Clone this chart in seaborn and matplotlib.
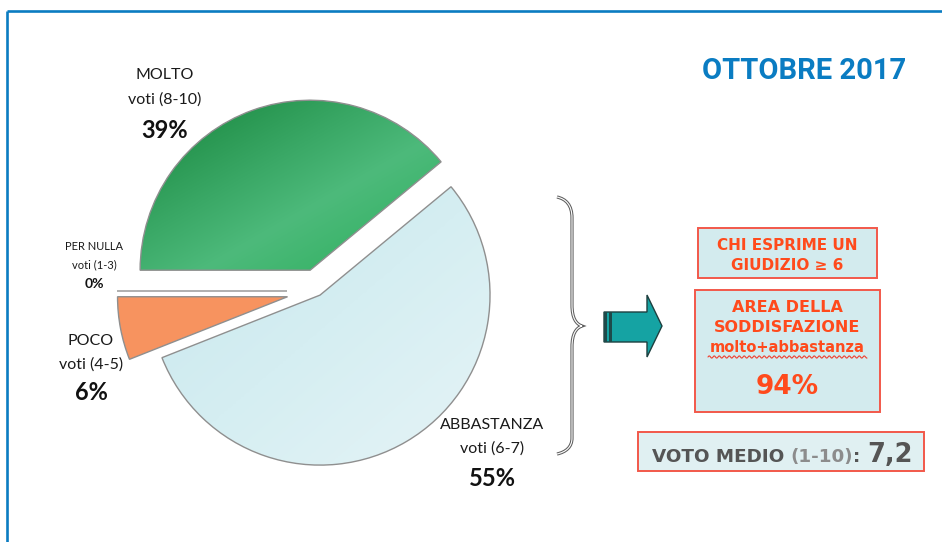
import numpy as np
import seaborn as sns
import matplotlib.pyplot as plt
import matplotlib.font_manager as fm
from matplotlib.patches import Rectangle, Polygon, PathPatch
from matplotlib.path import Path

# data
categories = ['PER NULLA', 'MOLTO', 'ABBASTANZA', 'POCO']
vote_ranges = ['voti (1-3)', 'voti (8-10)', 'voti (6-7)', 'voti (4-5)']
shares = [0, 39, 55, 6]
explode = [0.18, 0.13, 0.028, 0.18]
period_title = 'OTTOBRE 2017'
satisfaction = shares[1] + shares[2]
avg_vote = '7,2'

sns.set_theme(style='white')
avail = {f.name for f in fm.fontManager.ttflist}
title_font = 'Liberation Sans Narrow' if 'Liberation Sans Narrow' in avail else 'Roboto'
label_font = ['Lato', 'DejaVu Sans']
plt.rcParams['font.family'] = ['DejaVu Sans']

W, H = 942, 542
fig = plt.figure(figsize=(W / 100, H / 100), dpi=100)
ax = fig.add_axes([0, 0, 1, 1])


def Y(py):
    return H - py


# pie (explode in matplotlib is absolute, so scale by the radius)
cx, cy, R = 317.6, Y(291), 170
wedges, _ = ax.pie(shares, explode=[e * R for e in explode], startangle=180, counterclock=False,
                   center=(cx, cy), radius=R,
                   colors=['#bbbbbb', '#2fa85c', '#d6edf1', '#f7935f'],
                   wedgeprops=dict(edgecolor='#8f8f8f', linewidth=1.0))

# diagonal gradient fills for MOLTO and ABBASTANZA, clipped to the wedges
green_cmap = sns.blend_palette(['#1c8541', '#27954f', '#3aa866', '#4dba7b', '#3bb46a', '#27ad58'],
                               as_cmap=True)
light_cmap = sns.blend_palette(['#c8e7ed', '#d5eef2', '#e6f4f6'], as_cmap=True)
for w, cm in [(wedges[1], green_cmap), (wedges[2], light_cmap)]:
    ext = w.get_path().get_extents(w.get_transform() + ax.transData.inverted())
    x0, x1, y0, y1 = ext.x0 - 3, ext.x1 + 3, ext.y0 - 3, ext.y1 + 3
    gy, gx = np.mgrid[y1:y0:200j, x0:x1:200j]
    grad = ((gx - x0) / (x1 - x0) + (y1 - gy) / (y1 - y0)) / 2
    im = ax.imshow(grad, cmap=cm, extent=(x0, x1, y0, y1), origin='upper',
                   aspect='auto', zorder=1, interpolation='bilinear', vmin=0, vmax=1)
    im.set_clip_path(w)
    w.set_facecolor('none')
    w.set_zorder(3)

# pie labels
label_pos = {
    'PER NULLA': (94, 247, 265, 284, 8, 10),
    'MOLTO': (165, 75, 100, 130, 11.5, 17),
    'ABBASTANZA': (492, 425, 449, 479, 11.5, 17),
    'POCO': (91, 341, 365, 393, 11.5, 17),
}
for cat, rng, val in zip(categories, vote_ranges, shares):
    x, y1, y2, y3, fs, fs2 = label_pos[cat]
    ax.text(x, Y(y1), cat, ha='center', va='center', fontsize=fs, family=label_font, color='#1a1a1a')
    ax.text(x, Y(y2), rng, ha='center', va='center', fontsize=fs, family=label_font, color='#1a1a1a')
    ax.text(x, Y(y3), f'{val}%', ha='center', va='center', fontsize=fs2, family=label_font,
            fontweight='bold', color='#111111')

# title
ax.text(804, Y(71), period_title, ha='center', va='center', fontsize=21, fontweight='bold',
        family=[title_font, 'DejaVu Sans'], color='#0a7cc2')

# border
ax.plot([6.7, W], [Y(11.3), Y(11.3)], color='#0b7cc1', lw=1.9, solid_capstyle='butt')
ax.plot([6.7, 6.7], [Y(11.3), 0], color='#0b7cc1', lw=1.9, solid_capstyle='butt')

# brace
brace_px = [(557, 197), (566, 199), (572, 205), (572, 218), (572, 305),
            (572, 318), (576, 324), (582, 326), (576, 328), (572, 334), (572, 347),
            (572, 438), (572, 447), (566, 452), (557, 454)]
codes = [Path.MOVETO, Path.CURVE4, Path.CURVE4, Path.CURVE4, Path.LINETO,
         Path.CURVE4, Path.CURVE4, Path.CURVE4, Path.CURVE4, Path.CURVE4, Path.CURVE4,
         Path.LINETO, Path.CURVE4, Path.CURVE4, Path.CURVE4]
brace = Path([(x, Y(y)) for x, y in brace_px], codes)
ax.add_patch(PathPatch(brace, facecolor='none', edgecolor='#5e5e5e', lw=2.3))
ax.add_patch(PathPatch(brace, facecolor='none', edgecolor='white', lw=0.8))

# arrow
arrow_px = [(604, 312), (647, 312), (647, 295), (662, 326), (647, 357), (647, 342), (604, 342)]
ax.add_patch(Polygon([(x, Y(y)) for x, y in arrow_px], closed=True, facecolor='#15a3a3',
                     edgecolor='#1d3f3f', lw=1.0, zorder=4))
for x0, x1 in [(604, 607), (609, 611.5)]:
    ax.add_patch(Rectangle((x0, Y(342)), x1 - x0, 30, facecolor='#1d4a4a', edgecolor='none', zorder=5))

# boxes
red = '#ff4a1c'
edge_red = '#f2584a'
ax.add_patch(Rectangle((698, Y(278)), 179, 50, facecolor='#d3ebee', edgecolor=edge_red, lw=1.4))
ax.text(787.5, Y(245), 'CHI ESPRIME UN', ha='center', va='center', fontsize=11, fontweight='bold', color=red)
ax.text(787.5, Y(265), 'GIUDIZIO ≥ 6', ha='center', va='center', fontsize=11, fontweight='bold', color=red)

ax.add_patch(Rectangle((695, Y(412)), 185, 122, facecolor='#d3ebee', edgecolor=edge_red, lw=1.4))
ax.text(787.5, Y(307), 'AREA DELLA', ha='center', va='center', fontsize=11.5, fontweight='bold', color=red)
ax.text(787.5, Y(328), 'SODDISFAZIONE', ha='center', va='center', fontsize=11.5, fontweight='bold', color=red)
ax.text(787.5, Y(347), 'molto+abbastanza', ha='center', va='center', fontsize=10.5, fontweight='bold', color=red)
xs = np.linspace(708, 867, 300)
ax.plot(xs, Y(357) + 1.1 * np.sin((xs - 708) / 5.0 * 2 * np.pi), color='#f04030', lw=0.8)
ax.text(787.5, Y(387), f'{satisfaction}%', ha='center', va='center', fontsize=19, fontweight='bold', color=red)

ax.add_patch(Rectangle((638, Y(471)), 286, 39, facecolor='#e0f0f2', edgecolor=edge_red, lw=1.4))
base = Y(462)
t1 = ax.text(652, base, 'VOTO MEDIO ', ha='left', va='baseline', fontsize=13.2, fontweight='bold', color='#555555')
t2 = ax.annotate('(1-10)', xy=(1, base), xycoords=(t1, 'data'), ha='left', va='baseline',
                 fontsize=13.2, fontweight='bold', color='#8c8c8c')
t3 = ax.annotate(': ', xy=(1, base), xycoords=(t2, 'data'), ha='left', va='baseline',
                 fontsize=13.2, fontweight='bold', color='#555555')
ax.annotate(avg_vote, xy=(1, base), xycoords=(t3, 'data'), ha='left', va='baseline',
            fontsize=18.5, fontweight='bold', color='#555555')

ax.set_xlim(0, W)
ax.set_ylim(0, H)
ax.set_aspect('equal')
ax.axis('off')
fig.savefig('out.png', dpi=100, facecolor='white')
